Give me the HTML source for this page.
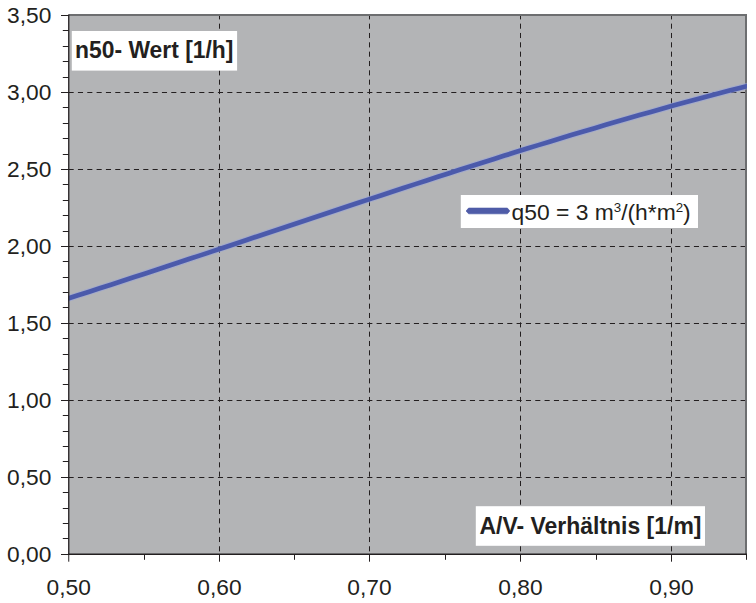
<!DOCTYPE html>
<html lang="de"><head><meta charset="utf-8"><title>n50 / A/V Diagramm</title>
<style>
html,body{margin:0;padding:0;background:#fff;}
body{width:756px;height:603px;overflow:hidden;}
svg{display:block;}
text{font-family:"Liberation Sans",Arial,Helvetica,sans-serif;fill:#231f20;}
.ax{font-size:22.3px;}
.lb{font-size:23.4px;font-weight:bold;}
</style></head><body>
<svg width="756" height="603" viewBox="0 0 756 603">
<rect x="0" y="0" width="756" height="603" fill="#fff"/>
<rect x="68.75" y="14" width="678.25" height="540.2" fill="#b3b4b6"/>

<g stroke="#231f20" stroke-width="1" stroke-dasharray="5.1 4.233" fill="none">
<path d="M68.6,477.5 H745"/>
<path d="M68.6,400.5 H745"/>
<path d="M68.6,323.5 H745"/>
<path d="M68.6,246.5 H745"/>
<path d="M68.6,169.5 H745"/>
<path d="M68.6,92.5 H745"/>
<path d="M219.5,14.3 V554.2"/>
<path d="M369.5,14.3 V554.2"/>
<path d="M520.5,14.3 V554.2"/>
<path d="M671.5,14.3 V554.2"/>
</g>
<rect x="68.75" y="14" width="678.25" height="2" fill="#6d6e70"/>
<rect x="745" y="14" width="2" height="540.2" fill="#6d6e70"/>
<clipPath id="cc"><rect x="68.6" y="14" width="678.3" height="541"/></clipPath>
<g clip-path="url(#cc)" fill="none"><path d="M66.0,299.19 L77.2,295.59 L88.5,291.97 L99.7,288.34 L111.0,284.69 L122.2,281.03 L133.5,277.36 L144.7,273.68 L156.0,269.98 L167.2,266.28 L178.5,262.57 L189.7,258.85 L201.0,255.12 L212.2,251.39 L223.4,247.65 L234.7,243.91 L245.9,240.17 L257.2,236.43 L268.4,232.68 L279.7,228.94 L290.9,225.19 L302.2,221.45 L313.4,217.72 L324.7,213.98 L335.9,210.25 L347.1,206.53 L358.4,202.82 L369.6,199.11 L380.9,195.41 L392.1,191.72 L403.4,188.05 L414.6,184.38 L425.9,180.73 L437.1,177.09 L448.4,173.47 L459.6,169.86 L470.9,166.27 L482.1,162.69 L493.3,159.14 L504.6,155.61 L515.8,152.09 L527.1,148.60 L538.3,145.13 L549.6,141.68 L560.8,138.26 L572.1,134.87 L583.3,131.50 L594.6,128.16 L605.8,124.84 L617.0,121.56 L628.3,118.30 L639.5,115.08 L650.8,111.89 L662.0,108.74 L673.3,105.61 L684.5,102.53 L695.8,99.48 L707.0,96.46 L718.3,93.49 L729.5,90.55 L740.8,87.66 L752.0,84.80" stroke="#97a3d8" stroke-opacity="0.6" stroke-width="6.6"/><path d="M66.0,299.19 L77.2,295.59 L88.5,291.97 L99.7,288.34 L111.0,284.69 L122.2,281.03 L133.5,277.36 L144.7,273.68 L156.0,269.98 L167.2,266.28 L178.5,262.57 L189.7,258.85 L201.0,255.12 L212.2,251.39 L223.4,247.65 L234.7,243.91 L245.9,240.17 L257.2,236.43 L268.4,232.68 L279.7,228.94 L290.9,225.19 L302.2,221.45 L313.4,217.72 L324.7,213.98 L335.9,210.25 L347.1,206.53 L358.4,202.82 L369.6,199.11 L380.9,195.41 L392.1,191.72 L403.4,188.05 L414.6,184.38 L425.9,180.73 L437.1,177.09 L448.4,173.47 L459.6,169.86 L470.9,166.27 L482.1,162.69 L493.3,159.14 L504.6,155.61 L515.8,152.09 L527.1,148.60 L538.3,145.13 L549.6,141.68 L560.8,138.26 L572.1,134.87 L583.3,131.50 L594.6,128.16 L605.8,124.84 L617.0,121.56 L628.3,118.30 L639.5,115.08 L650.8,111.89 L662.0,108.74 L673.3,105.61 L684.5,102.53 L695.8,99.48 L707.0,96.46 L718.3,93.49 L729.5,90.55 L740.8,87.66 L752.0,84.80" stroke="#4b5aab" stroke-width="4.7"/></g>
<rect x="71.8" y="31" width="165.3" height="39.6" fill="#fff"/>
<rect x="475.8" y="506.2" width="229.2" height="39.6" fill="#fff"/>
<rect x="460.8" y="195" width="237.2" height="33" fill="#fff"/>
<path d="M466.1,211 L468.6,208.1 H507.4 L509.8,210.9 L507.4,213.8 H468.6 Z" fill="#4f5ca8" stroke="#4f5ca8" stroke-width="0.7" stroke-linejoin="round"/>
<g stroke="#231f20" stroke-width="1.3" fill="none">
<path d="M68.75,14.5 V555.0"/>
<g stroke-width="1.6"><path d="M68.1,554.2 H747"/></g>
</g>
<g stroke="#231f20" stroke-width="1" fill="none">
<path d="M61.0,554.5 H68.75"/>
<path d="M62.8,538.5 H68.75"/>
<path d="M62.8,523.5 H68.75"/>
<path d="M62.8,508.5 H68.75"/>
<path d="M62.8,492.5 H68.75"/>
<path d="M61.0,477.5 H68.75"/>
<path d="M62.8,461.5 H68.75"/>
<path d="M62.8,446.5 H68.75"/>
<path d="M62.8,431.5 H68.75"/>
<path d="M62.8,415.5 H68.75"/>
<path d="M61.0,400.5 H68.75"/>
<path d="M62.8,384.5 H68.75"/>
<path d="M62.8,369.5 H68.75"/>
<path d="M62.8,354.5 H68.75"/>
<path d="M62.8,338.5 H68.75"/>
<path d="M61.0,323.5 H68.75"/>
<path d="M62.8,307.5 H68.75"/>
<path d="M62.8,292.5 H68.75"/>
<path d="M62.8,277.5 H68.75"/>
<path d="M62.8,261.5 H68.75"/>
<path d="M61.0,246.5 H68.75"/>
<path d="M62.8,231.5 H68.75"/>
<path d="M62.8,215.5 H68.75"/>
<path d="M62.8,200.5 H68.75"/>
<path d="M62.8,184.5 H68.75"/>
<path d="M61.0,169.5 H68.75"/>
<path d="M62.8,154.5 H68.75"/>
<path d="M62.8,138.5 H68.75"/>
<path d="M62.8,123.5 H68.75"/>
<path d="M62.8,107.5 H68.75"/>
<path d="M61.0,92.5 H68.75"/>
<path d="M62.8,77.5 H68.75"/>
<path d="M62.8,61.5 H68.75"/>
<path d="M62.8,46.5 H68.75"/>
<path d="M62.8,30.5 H68.75"/>
<path d="M61.0,15.5 H68.75"/>
<path d="M68.75,554.2 V561.7"/>
<path d="M144.5,554.2 V559.8"/>
<path d="M219.5,554.2 V561.7"/>
<path d="M294.5,554.2 V559.8"/>
<path d="M369.5,554.2 V561.7"/>
<path d="M445.5,554.2 V559.8"/>
<path d="M520.5,554.2 V561.7"/>
<path d="M596.5,554.2 V559.8"/>
<path d="M671.5,554.2 V561.7"/>
<path d="M746.5,554.2 V559.8"/>
</g>
<text id="y0" class="ax" x="7.00" y="23.45" textLength="44.30" lengthAdjust="spacingAndGlyphs">3,50</text>
<text id="y1" class="ax" x="7.00" y="100.40" textLength="44.30" lengthAdjust="spacingAndGlyphs">3,00</text>
<text id="y2" class="ax" x="7.00" y="177.35" textLength="44.30" lengthAdjust="spacingAndGlyphs">2,50</text>
<text id="y3" class="ax" x="7.00" y="254.30" textLength="44.30" lengthAdjust="spacingAndGlyphs">2,00</text>
<text id="y4" class="ax" x="7.00" y="331.25" textLength="44.30" lengthAdjust="spacingAndGlyphs">1,50</text>
<text id="y5" class="ax" x="7.00" y="408.20" textLength="44.30" lengthAdjust="spacingAndGlyphs">1,00</text>
<text id="y6" class="ax" x="7.00" y="485.15" textLength="44.30" lengthAdjust="spacingAndGlyphs">0,50</text>
<text id="y7" class="ax" x="7.00" y="562.10" textLength="44.30" lengthAdjust="spacingAndGlyphs">0,00</text>
<text id="x0" class="ax" x="46.60" y="594.7" textLength="44.30" lengthAdjust="spacingAndGlyphs">0,50</text>
<text id="x1" class="ax" x="197.35" y="594.7" textLength="44.30" lengthAdjust="spacingAndGlyphs">0,60</text>
<text id="x2" class="ax" x="347.35" y="594.7" textLength="44.30" lengthAdjust="spacingAndGlyphs">0,70</text>
<text id="x3" class="ax" x="498.35" y="594.7" textLength="44.30" lengthAdjust="spacingAndGlyphs">0,80</text>
<text id="x4" class="ax" x="649.35" y="594.7" textLength="44.30" lengthAdjust="spacingAndGlyphs">0,90</text>
<text id="l1" class="lb" x="75.05" y="57.8" textLength="158.34" lengthAdjust="spacingAndGlyphs">n50- Wert [1/h]</text>
<text id="l2" class="lb" x="479.50" y="533.7" textLength="221.95" lengthAdjust="spacingAndGlyphs">A/V- Verhältnis [1/m]</text>
<text id="lg" class="ax" x="511.55" y="219.8" textLength="179.19" lengthAdjust="spacingAndGlyphs">q50 = 3 m<tspan font-size="13" dy="-8.3">3</tspan><tspan dy="8.3">/(h*m</tspan><tspan font-size="13" dy="-8.3">2</tspan><tspan dy="8.3">)</tspan></text>
</svg></body></html>
